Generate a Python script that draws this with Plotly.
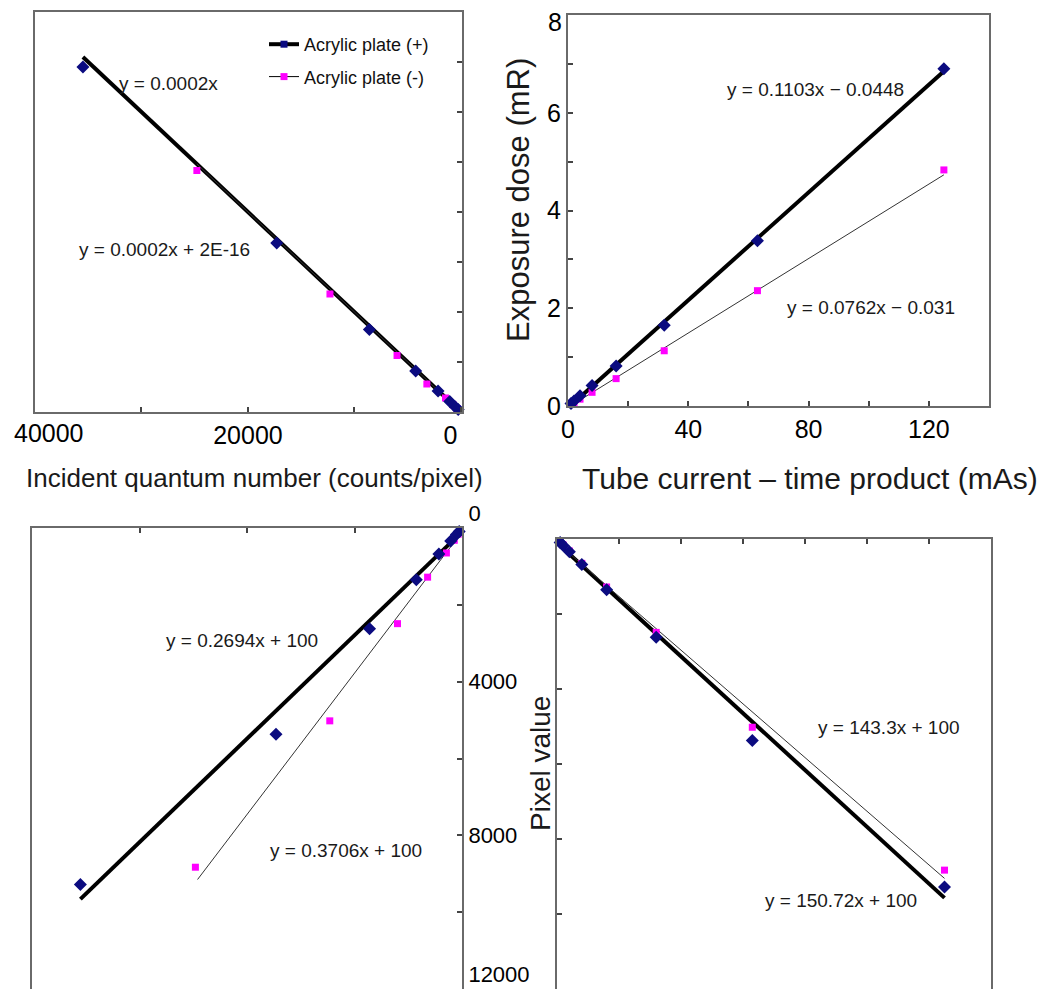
import plotly.graph_objects as go

W, H = 1045, 989
OFF = 8  # page body margin in the browser

# ---------------- data ----------------
mas = [1, 2, 4, 8, 16, 32, 63, 125]                      # tube current-time product (mAs)
dose_plus = [0.05, 0.10, 0.21, 0.42, 0.82, 1.65, 3.38, 6.90]   # exposure dose (mR), acrylic (+)
dose_minus = [0.03, 0.07, 0.14, 0.28, 0.56, 1.13, 2.36, 4.83]  # exposure dose (mR), acrylic (-)
quanta_plus = [260, 520, 1050, 2150, 4250, 8600, 17300, 35500]  # incident quanta (counts/pixel)
quanta_minus = [180, 360, 720, 1450, 3200, 6000, 12300, 24800]
pixel_plus = [90, 170, 340, 680, 1350, 2620, 5370, 9280]        # pixel value
pixel_minus = [85, 160, 320, 650, 1280, 2490, 5020, 8830]

# fitted trend lines (end points)
tl_trend_x_plus = [0, 35500]
tl_trend_y_plus = [0, 7.1]
tl_trend_x_minus = [0, 24800]
tl_trend_y_minus = [0, 4.96]
tr_trend_x = [0, 125]
tr_trend_plus = [-0.04, 6.85]
tr_trend_minus = [-0.03, 4.73]
bl_trend_x_plus = [0, 35500]
bl_trend_plus = [100, 9660]
bl_trend_x_minus = [0, 24600]
bl_trend_minus = [100, 9150]
br_trend_x = [0, 125]
br_trend_plus = [100, 9570]
br_trend_minus = [100, 9050]

# tick labels
quanta_ticks = [0, 20000, 40000]
quanta_ticklabels = ["0", "20000", "40000"]
mas_ticks = [0, 40, 80, 120]
dose_ticks = [0, 2, 4, 6, 8]
dose_ticklabels = ["0", "2", "4", "6", "8"]
pixel_ticks = [0, 4000, 8000, 12000]
pixel_ticklabels = ["0", "4000", "8000", "12000"]

eq_tl = ["y = 0.0002x", "y = 0.0002x + 2E-16"]
eq_tr = ["y = 0.1103x − 0.0448", "y = 0.0762x − 0.031"]
eq_bl = ["y = 0.2694x + 100", "y = 0.3706x + 100"]
eq_br = ["y = 143.3x + 100", "y = 150.72x + 100"]

series_names = ["Acrylic plate (+)", "Acrylic plate (-)"]

NAVY = "#0b0b80"
MAG = "#ff00ff"
FONT = "Arial, Liberation Sans, sans-serif"
NB = "\u00a0"

fig = go.Figure()


def add_panel(xa, ya, xp, yp, xm, ym, txp, typ, txm, tym):
    fig.add_trace(go.Scatter(x=txp, y=typ, mode="lines", xaxis=xa, yaxis=ya,
                             line=dict(color="black", width=4), showlegend=False, hoverinfo="skip"))
    fig.add_trace(go.Scatter(x=txm, y=tym, mode="lines", xaxis=xa, yaxis=ya,
                             line=dict(color="#333333", width=1), showlegend=False, hoverinfo="skip"))
    fig.add_trace(go.Scatter(x=xm, y=ym, mode="markers", xaxis=xa, yaxis=ya, cliponaxis=False,
                             marker=dict(symbol="square", size=7, color=MAG), showlegend=False))
    fig.add_trace(go.Scatter(x=xp, y=yp, mode="markers", xaxis=xa, yaxis=ya, cliponaxis=False,
                             marker=dict(symbol="diamond", size=10, color=NAVY), showlegend=False))


add_panel("x", "y", quanta_plus, dose_plus, quanta_minus, dose_minus,
          tl_trend_x_plus, tl_trend_y_plus, tl_trend_x_minus, tl_trend_y_minus)
add_panel("x2", "y2", mas, dose_plus, mas, dose_minus,
          tr_trend_x, tr_trend_plus, tr_trend_x, tr_trend_minus)
add_panel("x3", "y3", quanta_plus, pixel_plus, quanta_minus, pixel_minus,
          bl_trend_x_plus, bl_trend_plus, bl_trend_x_minus, bl_trend_minus)
add_panel("x4", "y4", mas, pixel_plus, mas, pixel_minus,
          br_trend_x, br_trend_plus, br_trend_x, br_trend_minus)

# legend-only entries
fig.add_trace(go.Scatter(x=[None], y=[None], mode="lines+markers", name=series_names[0],
                         legendgroup="a", line=dict(color="black", width=4),
                         marker=dict(symbol="square", size=7, color=NAVY)))
fig.add_trace(go.Scatter(x=[None], y=[None], mode="lines+markers", name=series_names[1],
                         legendgroup="b", line=dict(color="black", width=1),
                         marker=dict(symbol="square", size=7, color=MAG)))

LC = "#6a6a6a"
common = dict(showgrid=False, zeroline=False, showline=True, linecolor=LC, linewidth=2,
              mirror=True, ticks="inside", ticklen=5, tickwidth=1.5, tickcolor="#444",
              automargin=False, ticklabeloverflow="allow")


def fx(px):
    return (px - OFF) / W


def fy(py):
    return 1 - (py - OFF) / H


def px_x(a, b):
    return [fx(a), fx(b)]


def px_y(top, bottom):
    return [max(0.0, fy(bottom)), min(1.0, fy(top))]


MINOR = dict(ticks="inside", ticklen=5, tickwidth=1.5, tickcolor="#444")

# labels sitting at the very page edge are written as text next to their tick
tl_x_text = [quanta_ticklabels[0] + NB * 3, quanta_ticklabels[1], ""]
tr_y_text = dose_ticklabels[:-1] + [""]
bl_y_text = [pixel_ticklabels[0] + "<br> ", pixel_ticklabels[1], pixel_ticklabels[2],
             pixel_ticklabels[3] + "<br> "]

fig.update_layout(
    width=W, height=H, margin=dict(l=0, r=0, t=0, b=0, autoexpand=False),
    paper_bgcolor="white", plot_bgcolor="white",
    font=dict(family=FONT, color="black"),
    showlegend=True,
    legend=dict(x=fx(264), y=fy(26), xanchor="left", yanchor="top",
                bgcolor="rgba(0,0,0,0)", font=dict(family=FONT, size=18, color="#111"),
                tracegroupgap=6),
    xaxis=dict(domain=px_x(35, 462), range=[40000, -100], anchor="y",
               tickvals=quanta_ticks, ticktext=tl_x_text,
               minor=dict(tickvals=[10000, 30000], **MINOR),
               tickfont=dict(family=FONT, size=25, color="black"), **common),
    yaxis=dict(domain=px_y(12, 412), range=[0, 8], anchor="x", side="right",
               tickvals=list(range(0, 9)), showticklabels=False, **common),
    xaxis2=dict(domain=px_x(568, 989), range=[0, 140], anchor="y2",
                tickvals=mas_ticks,
                minor=dict(tickvals=[20, 60, 100], **MINOR),
                tickfont=dict(family=FONT, size=25, color="black"), **common),
    yaxis2=dict(domain=px_y(15, 406), range=[0, 8], anchor="x2",
                tickvals=dose_ticks, ticktext=tr_y_text,
                minor=dict(tickvals=[1, 3, 5, 7], **MINOR),
                tickfont=dict(family=FONT, size=25, color="black"), **common),
    xaxis3=dict(domain=px_x(32, 462), range=[40000, 0], anchor="y3", side="top",
                tickvals=[10000, 20000, 30000], showticklabels=False, **common),
    yaxis3=dict(domain=px_y(528, 989), range=[12000, 0], anchor="x3", side="right",
                tickvals=pixel_ticks, ticktext=bl_y_text,
                minor=dict(tickvals=[2000, 6000, 10000], **MINOR),
                tickfont=dict(family=FONT, size=22, color="black"), **common),
    xaxis4=dict(domain=px_x(557, 991), range=[0, 140], anchor="y4", side="top",
                tickvals=[20, 40, 60, 80, 100, 120], showticklabels=False, **common),
    yaxis4=dict(domain=px_y(539, 989), range=[12000, 0], anchor="x4", side="left",
                tickvals=[2000, 4000, 6000, 8000, 10000], showticklabels=False, **common),
)

ann = []


def txt(x, y, s, size=19, angle=0, color="#1a1a1a"):
    ann.append(dict(x=fx(x), y=fy(y), xref="paper", yref="paper", text=s, showarrow=False,
                    xanchor="center", yanchor="middle", textangle=angle,
                    font=dict(family=FONT, size=size, color=color)))


# equations
txt(168, 83, eq_tl[0])
txt(164, 250, eq_tl[1])
txt(815, 89, eq_tr[0])
txt(871, 307, eq_tr[1])
txt(242, 640, eq_bl[0])
txt(346, 850, eq_bl[1])
txt(889, 727, eq_br[0])
txt(841, 900, eq_br[1])

# edge tick labels
txt(49, 433, quanta_ticklabels[2], size=25, color="black")
txt(555, 22, dose_ticklabels[-1], size=25, color="black")

# axis titles
txt(254, 478, "Incident quantum number (counts/pixel)", size=26)
txt(810, 478, "Tube current – time product (mAs)", size=30)
txt(518, 200, "Exposure dose (mR)", size=31, angle=-90)
txt(540, 764, "Pixel value", size=28, angle=-90)

fig.update_layout(annotations=ann)

fig.write_html("out.html")
